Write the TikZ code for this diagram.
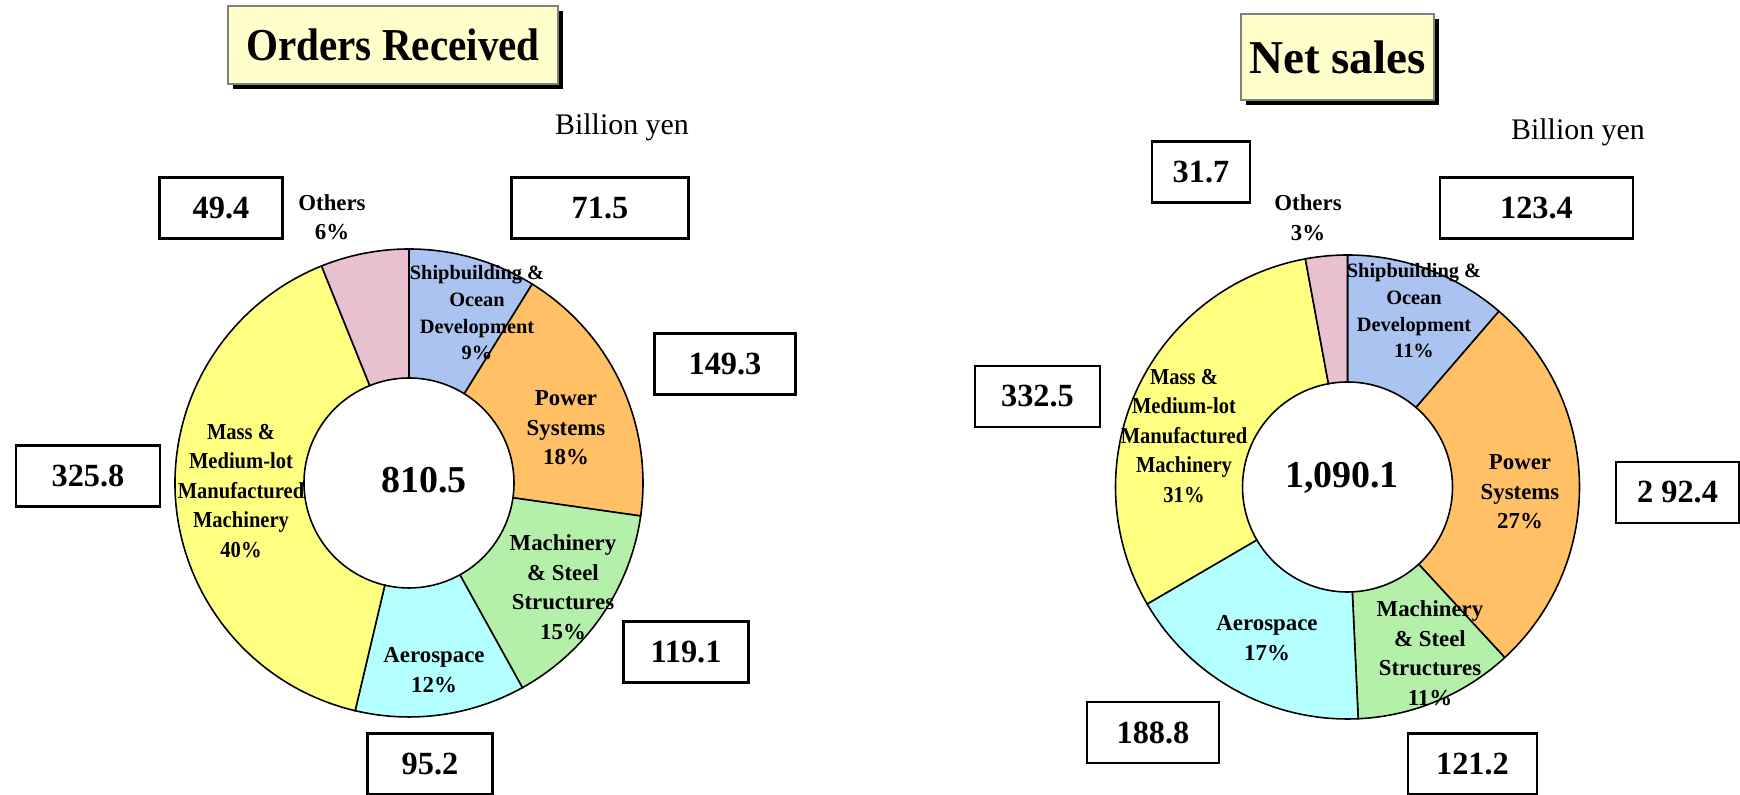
\documentclass[tikz,border=0pt]{standalone}
\usepackage{fontspec}
\setmainfont{Liberation Serif}
\newfontfamily\narrowfont{Liberation Serif}[FakeStretch=0.9]
\usetikzlibrary{shadows}

\definecolor{titleyellow}{RGB}{255,255,204}
\definecolor{shipblue}{RGB}{170,195,240}
\definecolor{powerorange}{RGB}{255,192,102}
\definecolor{machgreen}{RGB}{180,240,170}
\definecolor{aerocyan}{RGB}{180,255,255}
\definecolor{massyellow}{RGB}{255,255,130}
\definecolor{otherspink}{RGB}{232,192,208}

\tikzset{
  titlebox/.style={draw=gray, line width=0.3pt, fill=titleyellow, inner sep=0pt,
    drop shadow={shadow xshift=0.05cm, shadow yshift=-0.05cm, fill=black, opacity=1}},
  valbox/.style={draw, line width=0.6pt, fill=white, inner sep=0pt, minimum height=0.61cm,
    font=\bfseries\fontsize{9.2}{11}\selectfont},
  seglabel/.style={align=center, inner sep=0pt, font=\bfseries\fontsize{6.5}{8.4}\selectfont},
  masslabel/.style={seglabel, font=\narrowfont\bfseries\fontsize{6.5}{8.4}\selectfont},
  shiplabel/.style={align=center, inner sep=0pt, font=\bfseries\fontsize{5.8}{7.6}\selectfont},
  totallabel/.style={inner sep=0pt, font=\bfseries\fontsize{10.8}{12}\selectfont},
  unitlabel/.style={inner sep=0pt, font=\fontsize{8.5}{10}\selectfont},
  slice/.style={draw, line width=0.45pt}
}

\begin{document}
\begin{tikzpicture}
\useasboundingbox (0,0) rectangle (17.40,-7.95);

% orders received
\begin{scope}[shift={(4.09,-4.83)}]
\filldraw[slice, fill=shipblue] (90:2.34) arc[start angle=90, end angle=58.23, radius=2.34] -- (58.23:1.05) arc[start angle=58.23, end angle=90, radius=1.05] -- cycle;
\filldraw[slice, fill=powerorange] (58.23:2.34) arc[start angle=58.23, end angle=-8.10, radius=2.34] -- (-8.10:1.05) arc[start angle=-8.10, end angle=58.23, radius=1.05] -- cycle;
\filldraw[slice, fill=machgreen] (-8.10:2.34) arc[start angle=-8.10, end angle=-61.01, radius=2.34] -- (-61.01:1.05) arc[start angle=-61.01, end angle=-8.10, radius=1.05] -- cycle;
\filldraw[slice, fill=aerocyan] (-61.01:2.34) arc[start angle=-61.01, end angle=-103.31, radius=2.34] -- (-103.31:1.05) arc[start angle=-103.31, end angle=-61.01, radius=1.05] -- cycle;
\filldraw[slice, fill=massyellow] (-103.31:2.34) arc[start angle=-103.31, end angle=-248.05, radius=2.34] -- (-248.05:1.05) arc[start angle=-248.05, end angle=-103.31, radius=1.05] -- cycle;
\filldraw[slice, fill=otherspink] (-248.05:2.34) arc[start angle=-248.05, end angle=-270, radius=2.34] -- (-270:1.05) arc[start angle=-270, end angle=-248.05, radius=1.05] -- cycle;
\end{scope}

\node[titlebox, minimum width=3.30cm, minimum height=0.78cm, font=\narrowfont\bfseries\fontsize{13}{15}\selectfont] (ordtitle) at (3.93,-0.45) {Orders Received};
\node[unitlabel, anchor=base] (ordunit) at (6.22,-1.35) {Billion yen};

\node[valbox, minimum width=1.23cm] (ordothersval) at (2.21,-2.08) {49.4};
\node[valbox, minimum width=1.77cm] (ordshipval) at (6.00,-2.08) {71.5};
\node[valbox, minimum width=1.41cm] (ordpowerval) at (7.25,-3.64) {149.3};
\node[valbox, minimum width=1.44cm] (ordmassval) at (0.88,-4.76) {325.8};
\node[valbox, minimum width=1.25cm] (ordmachval) at (6.86,-6.52) {119.1};
\node[valbox, minimum width=1.25cm] (ordaeroval) at (4.30,-7.64) {95.2};

\node[shiplabel] (ordship) at (4.77,-3.13) {Shipbuilding \&\\Ocean\\Development\\9\%};
\node[seglabel] (ordpower) at (5.66,-4.28) {Power\\Systems\\18\%};
\node[seglabel] (ordmach) at (5.63,-5.87) {Machinery\\\& Steel\\Structures\\15\%};
\node[seglabel] (ordaero) at (4.34,-6.70) {Aerospace\\12\%};
\node[masslabel] (ordmass) at (2.41,-4.91) {Mass \&\\Medium-lot\\Manufactured\\Machinery\\40\%};
\node[seglabel] (ordothers) at (3.32,-2.17) {Others\\6\%};
\node[totallabel] (ordtotal) at (4.24,-4.80) {810.5};

% net sales
\begin{scope}[shift={(13.475,-4.87)}]
\filldraw[slice, fill=shipblue] (90:2.32) arc[start angle=90, end angle=49.24, radius=2.32] -- (49.24:1.05) arc[start angle=49.24, end angle=90, radius=1.05] -- cycle;
\filldraw[slice, fill=powerorange] (49.24:2.32) arc[start angle=49.24, end angle=-47.33, radius=2.32] -- (-47.33:1.05) arc[start angle=-47.33, end angle=49.24, radius=1.05] -- cycle;
\filldraw[slice, fill=machgreen] (-47.33:2.32) arc[start angle=-47.33, end angle=-87.36, radius=2.32] -- (-87.36:1.05) arc[start angle=-87.36, end angle=-47.33, radius=1.05] -- cycle;
\filldraw[slice, fill=aerocyan] (-87.36:2.32) arc[start angle=-87.36, end angle=-149.72, radius=2.32] -- (-149.72:1.05) arc[start angle=-149.72, end angle=-87.36, radius=1.05] -- cycle;
\filldraw[slice, fill=massyellow] (-149.72:2.32) arc[start angle=-149.72, end angle=-259.53, radius=2.32] -- (-259.53:1.05) arc[start angle=-259.53, end angle=-149.72, radius=1.05] -- cycle;
\filldraw[slice, fill=otherspink] (-259.53:2.32) arc[start angle=-259.53, end angle=-270, radius=2.32] -- (-270:1.05) arc[start angle=-270, end angle=-259.53, radius=1.05] -- cycle;
\end{scope}

\node[titlebox, minimum width=1.93cm, minimum height=0.86cm, font=\bfseries\fontsize{13.4}{16}\selectfont] (saltitle) at (13.375,-0.57) {Net sales};
\node[unitlabel, anchor=base] (salunit) at (15.78,-1.40) {Billion yen};

\node[valbox, minimum width=0.98cm] (salothersval) at (12.01,-1.72) {31.7};
\node[valbox, minimum width=1.93cm] (salshipval) at (15.365,-2.08) {123.4};
\node[valbox, minimum width=1.25cm] (salmassval) at (10.375,-3.965) {332.5};
\node[valbox, minimum width=1.23cm] (salpowerval) at (16.775,-4.925) {2 92.4};
\node[valbox, minimum width=1.32cm] (salaeroval) at (11.53,-7.325) {188.8};
\node[valbox, minimum width=1.29cm] (salmachval) at (14.725,-7.64) {121.2};

\node[shiplabel] (salship) at (14.14,-3.11) {Shipbuilding \&\\Ocean\\Development\\11\%};
\node[seglabel] (salpower) at (15.20,-4.92) {Power\\Systems\\27\%};
\node[seglabel] (salmach) at (14.30,-6.53) {Machinery\\\& Steel\\Structures\\11\%};
\node[seglabel] (salaero) at (12.67,-6.38) {Aerospace\\17\%};
\node[masslabel] (salmass) at (11.84,-4.36) {Mass \&\\Medium-lot\\Manufactured\\Machinery\\31\%};
\node[seglabel] (salothers) at (13.08,-2.18) {Others\\3\%};
\node[totallabel] (saltotal) at (13.42,-4.78) {1,090.1};
\end{tikzpicture}
\end{document}
